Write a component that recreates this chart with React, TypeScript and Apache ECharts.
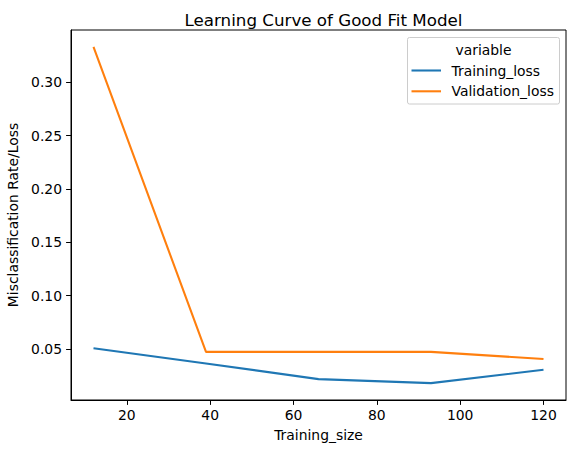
import React, { useEffect, useRef } from "react";
import * as echarts from "echarts";

const trainingSize = [12, 39, 66, 93, 120];
const trainingLoss = [0.0506, 0.0364, 0.0217, 0.0179, 0.0305];
const validationLoss = [0.3333, 0.0472, 0.0472, 0.0472, 0.0406];
const xTicks = [20, 40, 60, 80, 100, 120];
const yTicks = [0.05, 0.1, 0.15, 0.2, 0.25, 0.3];
const seriesNames = ["Training_loss", "Validation_loss"];
const colors = ["#1f77b4", "#ff7f0e"];

const FONT = "DejaVu Sans";
const FS = 13.9;

export default function App() {
  const ref = useRef<HTMLDivElement>(null);
  useEffect(() => {
    const chart = echarts.init(ref.current!, null, { renderer: "svg" });
    const toPairs = (ys: number[]) => trainingSize.map((x, i) => [x, ys[i]]);
    const legendX = 407.5;
    const legendY = 37.5;
    chart.setOption({
      animation: false,
      backgroundColor: "#ffffff",
      textStyle: { fontFamily: FONT },
      title: {
        text: "Learning Curve of Good Fit Model",
        left: 318.5,
        top: 6,
        textAlign: "center",
        textStyle: { fontFamily: FONT, fontSize: 16.7, fontWeight: "normal", color: "#000" },
      },
      grid: {
        left: 71,
        right: 10,
        top: 30,
        bottom: 53,
        show: true,
        borderColor: "#000",
        borderWidth: 1,
        containLabel: false,
        outerBoundsMode: "none",
      },
      xAxis: {
        type: "value",
        min: 6.6,
        max: 125.4,
        name: "Training_size",
        nameLocation: "middle",
        nameGap: 28,
        nameTextStyle: { fontFamily: FONT, fontSize: FS, color: "#000" },
        axisLine: { show: true, lineStyle: { color: "#000", width: 1 } },
        axisTick: { show: true, length: 4.9, lineStyle: { color: "#000" }, customValues: xTicks },
        axisLabel: { fontFamily: FONT, fontSize: FS, color: "#000", margin: 8, customValues: xTicks },
        splitLine: { show: false },
      },
      yAxis: {
        type: "value",
        min: 0.0021,
        max: 0.3491,
        name: "Misclassification Rate/Loss",
        nameLocation: "middle",
        nameGap: 44,
        nameTextStyle: { fontFamily: FONT, fontSize: FS, color: "#000" },
        axisLine: { show: true, lineStyle: { color: "#000", width: 1 } },
        axisTick: { show: true, length: 4.9, lineStyle: { color: "#000" }, customValues: yTicks },
        axisLabel: {
          fontFamily: FONT,
          fontSize: FS,
          color: "#000",
          margin: 9,
          customValues: yTicks,
          formatter: (v: number) => v.toFixed(2),
        },
        splitLine: { show: false },
      },
      series: [
        {
          name: seriesNames[0],
          type: "line",
          data: toPairs(trainingLoss),
          showSymbol: false,
          lineStyle: { color: colors[0], width: 2.08 },
          itemStyle: { color: colors[0] },
        },
        {
          name: seriesNames[1],
          type: "line",
          data: toPairs(validationLoss),
          showSymbol: false,
          lineStyle: { color: colors[1], width: 2.08 },
          itemStyle: { color: colors[1] },
        },
      ],
      graphic: [
        {
          type: "rect",
          shape: { x: legendX, y: legendY, width: 152, height: 66.5, r: 2 },
          style: { fill: "rgba(255,255,255,0.8)", stroke: "#cccccc", lineWidth: 1 },
          z: 100,
        },
        {
          type: "text",
          x: legendX + 76,
          y: legendY + 12,
          style: {
            text: "variable",
            fontFamily: FONT,
            fontSize: FS,
            fill: "#000",
            align: "center",
            verticalAlign: "middle",
          },
          z: 101,
        },
        ...seriesNames.flatMap((name, i) => [
          {
            type: "line",
            shape: { x1: legendX + 4, y1: legendY + 33 + i * 20.8, x2: legendX + 33.5, y2: legendY + 33 + i * 20.8 },
            style: { stroke: colors[i], lineWidth: 2.08 },
            z: 101,
          },
          {
            type: "text",
            x: legendX + 44,
            y: legendY + 33 + i * 20.8,
            style: {
              text: name,
              fontFamily: FONT,
              fontSize: FS,
              fill: "#000",
              align: "left",
              verticalAlign: "middle",
            },
            z: 101,
          },
        ]),
      ],
    });
    return () => chart.dispose();
  }, []);
  return <div ref={ref} style={{ width: 576, height: 453, position: "absolute", left: 0, top: 0 }} />;
}
